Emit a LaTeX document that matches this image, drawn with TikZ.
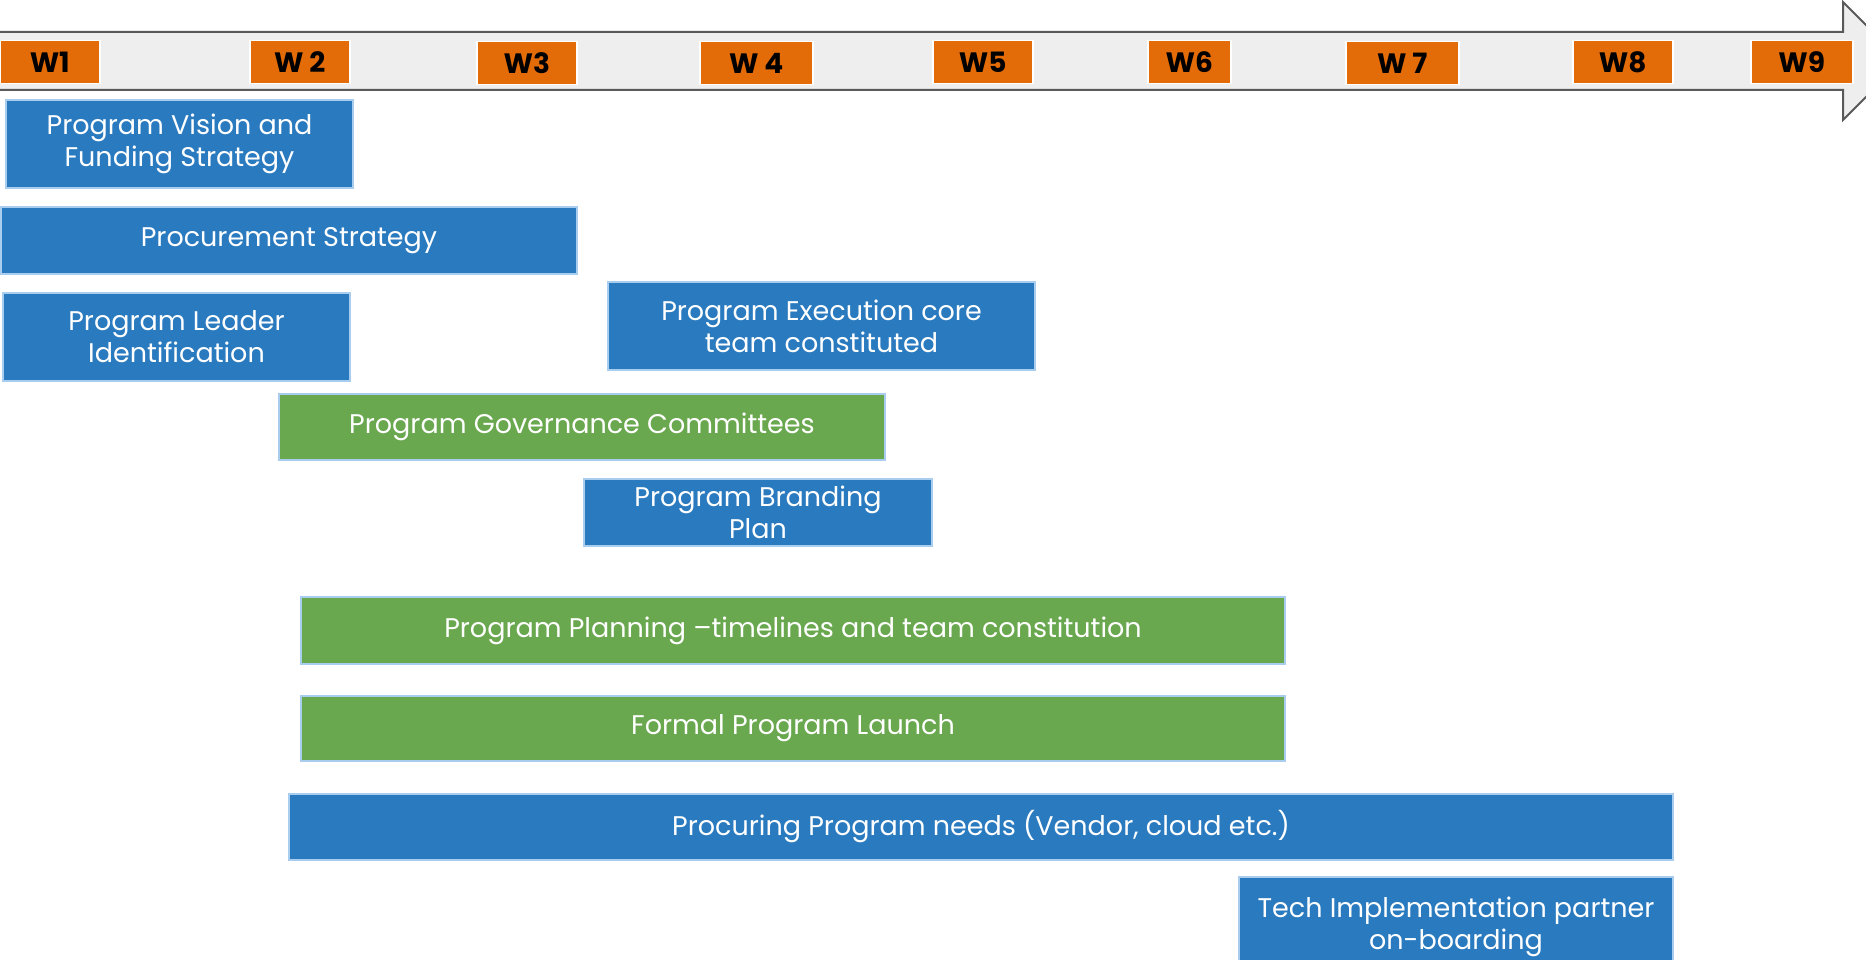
\documentclass[tikz,border=0pt]{standalone}
\usepackage{fontspec}
\setmainfont{Poppins}
\definecolor{barblue}{HTML}{2A7ABF}
\definecolor{bargreen}{HTML}{6AA84F}
\definecolor{baredge}{HTML}{A9CDEE}
\definecolor{wkorange}{HTML}{E36C09}
\definecolor{shaftfill}{HTML}{EEEEEE}
\definecolor{shaftline}{HTML}{595959}
\tikzset{
  week/.style={draw=white, line width=1.5pt, fill=wkorange, text=black, inner sep=0pt,
    anchor=north west, font=\fontsize{28}{32}\selectfont\bfseries},
  bar/.style={draw=baredge, line width=2pt, fill=barblue, text=white, inner sep=0pt,
    anchor=north west, align=center, font=\fontsize{27}{32}\selectfont},
  gbar/.style={bar, fill=bargreen},
}
\begin{document}
\begin{tikzpicture}[x=1pt,y=-1pt]
\useasboundingbox (0,0) rectangle (1866,960);
% timeline arrow
\draw[fill=shaftfill, draw=shaftline, line width=2pt]
  (-5,32) -- (1843,32) -- (1843,2) -- (1902,61) -- (1843,120) -- (1843,90) -- (-5,90) -- cycle;
% weeks
\node[week, minimum width=100pt, minimum height=43pt] (w1) at (-1,40) {W1};
\node[week, minimum width=100pt, minimum height=43pt] (w2) at (249,40) {W 2};
\node[week, minimum width=100pt, minimum height=43pt] (w3) at (476,41) {W3};
\node[week, minimum width=113pt, minimum height=43pt] (w4) at (699,41) {W 4};
\node[week, minimum width=100pt, minimum height=43pt] (w5) at (932,40) {W5};
\node[week, minimum width=83pt, minimum height=43pt] (w6) at (1147,40) {W6};
\node[week, minimum width=113pt, minimum height=43pt] (w7) at (1345,41) {W 7};
\node[week, minimum width=100pt, minimum height=43pt] (w8) at (1572,40) {W8};
\node[week, minimum width=102pt, minimum height=43pt] (w9) at (1750,40) {W9};
% bars
\node[bar, minimum width=347pt, minimum height=88pt] (vision) at (5,99) {Program Vision and\\Funding Strategy};
\node[bar, minimum width=576pt, minimum height=67pt] (procstrat) at (0,206) {Procurement Strategy};
\node[bar, minimum width=347pt, minimum height=88pt] (leader) at (2,292) {Program Leader\\Identification};
\node[bar, minimum width=427pt, minimum height=88pt] (execteam) at (607,281) {Program Execution core\\team constituted};
\node[gbar, minimum width=606pt, minimum height=66pt] (gov) at (278,393) {Program Governance Committees};
\node[bar, minimum width=348pt, minimum height=67pt] (brand) at (583,478) {Program Branding\\Plan};
\node[gbar, minimum width=984pt, minimum height=67pt] (planning) at (300,596) {Program Planning –timelines and team constitution};
\node[gbar, minimum width=984pt, minimum height=65pt] (launch) at (300,695) {Formal Program Launch};
\node[bar, minimum width=1384pt, minimum height=66pt] (procure) at (288,793) {Procuring Program needs (Vendor, cloud etc.)};
\node[bar, minimum width=434pt, minimum height=100pt] (tech) at (1238,876) {Tech Implementation partner\\on-boarding};
\end{tikzpicture}
\end{document}
